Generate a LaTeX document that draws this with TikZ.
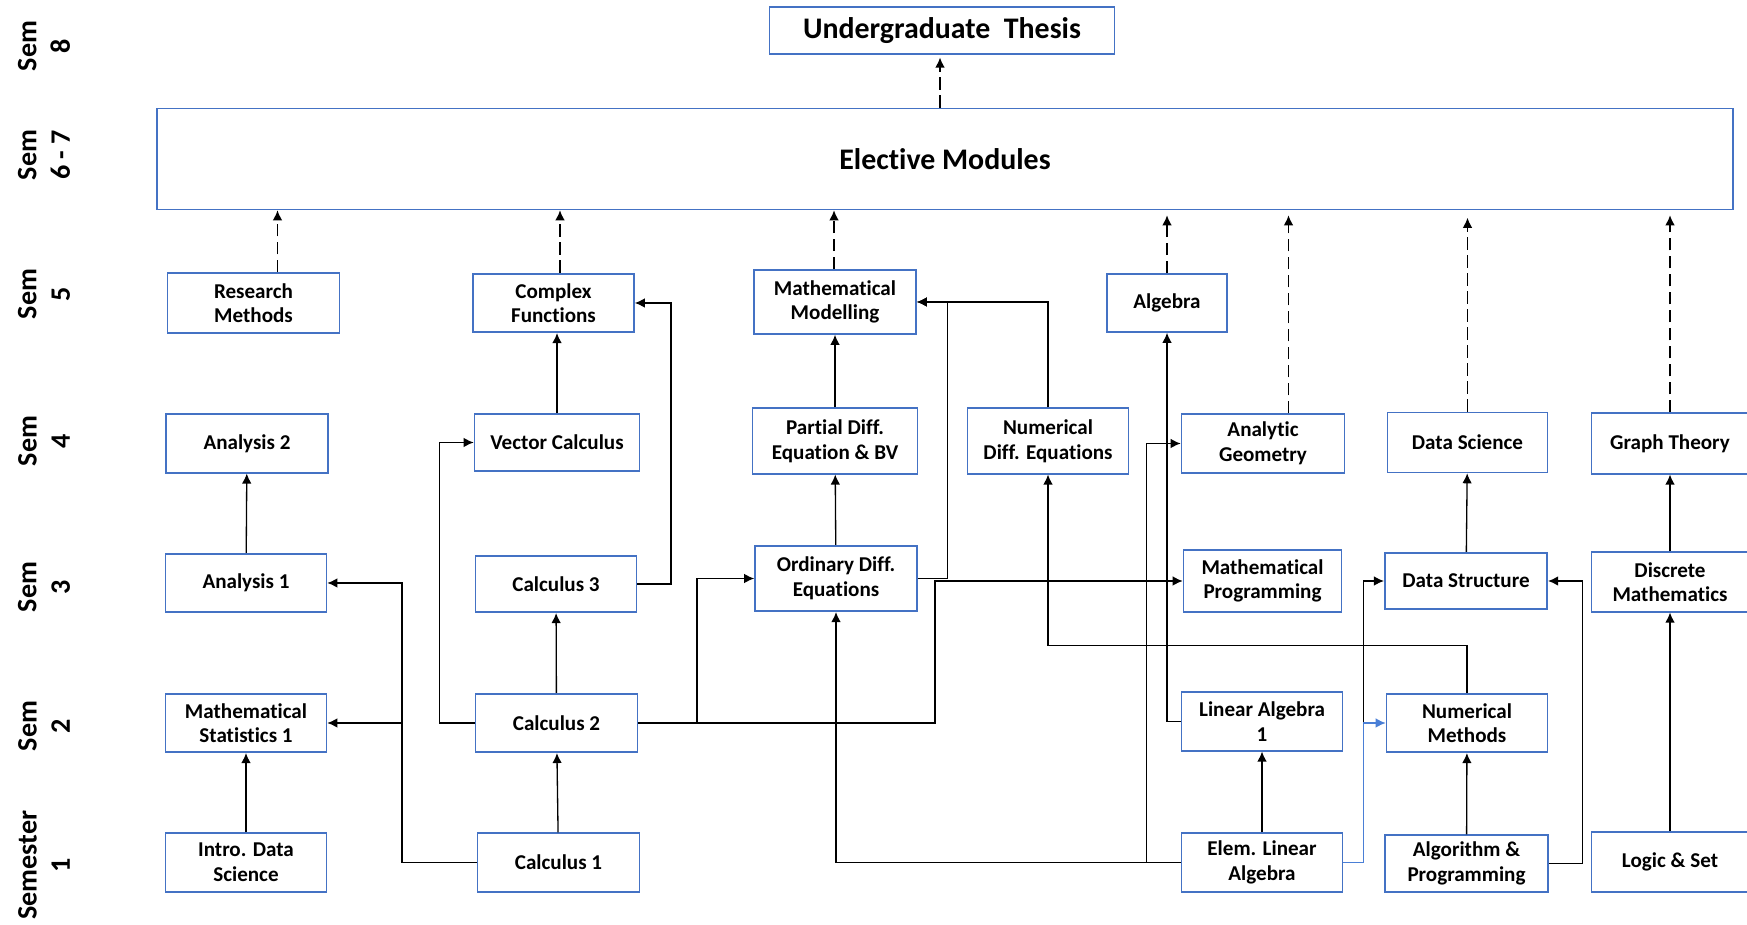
\documentclass[tikz,border=0pt]{standalone}
\usepackage{fontspec}
\setmainfont{Carlito}[Ligatures=NoCommon]
\usepackage{tikz}
\usetikzlibrary{arrows.meta}
\definecolor{boxblue}{HTML}{4472C4}
\definecolor{linkblue}{HTML}{4A7FD6}

\begin{document}
\begin{tikzpicture}[
  course/.style={draw=boxblue, line width=0.9pt, minimum width=3.22cm, minimum height=1.17cm,
    align=center, inner sep=1pt, font=\bfseries\fontsize{12}{14}\selectfont},
  big/.style={course, font=\bfseries\fontsize{17}{20}\selectfont},
  semlabel/.style={rotate=90, align=center, font=\bfseries\fontsize{16}{19}\selectfont},
  arr/.style={-{Latex[length=2mm,width=1.9mm]}, line width=0.75pt},
  dasharr/.style={arr, dash pattern=on 2.5mm off 1.1mm}
]
  \useasboundingbox (0,0) rectangle (34.94,18.48);
  \clip (0,0) rectangle (34.94,18.48);

  % Semester labels
  \node[semlabel] (s8) at (0.88,17.56) {Sem\\8};
  \node[semlabel] (s67) at (0.88,15.38) {Sem\\6 - 7};
  \node[semlabel] (s5) at (0.88,12.60) {Sem\\5};
  \node[semlabel] (s4) at (0.88,9.66) {Sem\\4};
  \node[semlabel] (s3) at (0.88,6.74) {Sem\\3};
  \node[semlabel] (s2) at (0.88,3.96) {Sem\\2};
  \node[semlabel] (s1) at (0.88,1.18) {Semester\\1};

  % Sem 8 and Sem 6-7
  \node[big, minimum width=6.9cm, minimum height=0.95cm] (thesis) at (18.84,17.87) {Undergraduate\ \ Thesis};
  \node[big, minimum width=31.52cm, minimum height=2.02cm] (elective) at (18.90,15.30) {Elective Modules};

  % Sem 5
  \node[course, minimum width=3.44cm, minimum height=1.19cm] (resmeth) at (5.07,12.42) {Research\\Methods};
  \node[course] (complexf) at (11.07,12.42) {Complex\\Functions};
  \node[course, minimum width=3.24cm, minimum height=1.28cm] (modelling) at (16.70,12.44) {Mathematical\\Modelling};
  \node[course, minimum width=2.40cm, minimum height=1.16cm] (algebra) at (23.34,12.42) {Algebra};

  % Sem 4
  \node[course, minimum width=3.24cm] (anatwo) at (4.94,9.61) {Analysis 2};
  \node[course, minimum width=3.30cm, minimum height=1.14cm] (vectorc) at (11.14,9.63) {Vector Calculus};
  \node[course, minimum width=3.30cm, minimum height=1.31cm] (pde) at (16.70,9.66) {Partial Diff.\\Equation \& BV};
  \node[course, minimum height=1.31cm] (nde) at (20.96,9.66) {Numerical\\Diff. Equations};
  \node[course, minimum width=3.26cm] (anageo) at (25.26,9.61) {Analytic\\Geometry};
  \node[course, minimum width=3.20cm, minimum height=1.20cm] (datasci) at (29.35,9.63) {Data Science};
  \node[course, minimum width=3.14cm, minimum height=1.21cm] (graph) at (33.40,9.61) {Graph Theory};

  % Sem 3
  \node[course] (anaone) at (4.92,6.82) {Analysis 1};
  \node[course, minimum height=1.13cm] (calcthree) at (11.12,6.80) {Calculus 3};
  \node[course, minimum width=3.24cm, minimum height=1.31cm] (ode) at (16.72,6.91) {Ordinary Diff.\\Equations};
  \node[course, minimum width=3.16cm, minimum height=1.25cm] (mathprog) at (25.25,6.86) {Mathematical\\Programming};
  \node[course, minimum width=3.25cm, minimum height=1.13cm] (datastruct) at (29.32,6.86) {Data Structure};
  \node[course, minimum width=3.14cm, minimum height=1.19cm] (discrete) at (33.40,6.84) {Discrete\\Mathematics};

  % Sem 2
  \node[course] (statone) at (4.92,4.02) {Mathematical\\Statistics 1};
  \node[course, minimum width=3.24cm] (calctwo) at (11.13,4.02) {Calculus 2};
  \node[course] (linalg) at (25.24,4.05) {Linear Algebra\\1};
  \node[course] (nummeth) at (29.34,4.02) {Numerical\\Methods};

  % Semester 1
  \node[course] (introds) at (4.92,1.23) {Intro. Data\\Science};
  \node[course, minimum width=3.24cm] (calcone) at (11.17,1.23) {Calculus 1};
  \node[course] (elemla) at (25.24,1.23) {Elem. Linear\\Algebra};
  \node[course, minimum width=3.25cm, minimum height=1.13cm] (algoprog) at (29.33,1.21) {Algorithm \&\\Programming};
  \node[course, minimum width=3.14cm, minimum height=1.20cm] (logic) at (33.40,1.24) {Logic \& Set};

  % Into elective modules and thesis
  \draw[dasharr] (resmeth.north -| 5.55,0) -- (elective.south -| 5.55,0);
  \draw[dasharr] (complexf.north -| 11.20,0) -- (elective.south -| 11.20,0);
  \draw[dasharr] (modelling.north -| 16.68,0) -- (elective.south -| 16.68,0);
  \draw[dasharr, shorten >=1mm] (algebra.north) -- (algebra.north |- elective.south);
  \draw[dasharr, shorten >=1mm] (anageo.north -| 25.77,0) -- (elective.south -| 25.77,0);
  \draw[dasharr, shorten >=1.5mm] (datasci.north) -- (datasci.north |- elective.south);
  \draw[dasharr, shorten >=1mm] (graph.north) -- (graph.north |- elective.south);
  \draw[dasharr, shorten >=0.5mm] (elective.north -| 18.80,0) -- (thesis.south -| 18.80,0);

  % Analysis and statistics
  \draw[arr] (introds) -- (statone);
  \draw[arr] (anaone) -- (anatwo);
  \draw[arr] (calcone.west) -| (8.04,6.82) -- (anaone.east);
  \draw[arr] (calcone.west) -| (8.04,4.02) -- (statone.east);

  % Calculus
  \draw[arr] (calcone) -- (calctwo);
  \draw[arr] (calctwo) -- (calcthree);
  \draw[arr] (calctwo.west) -| (8.79,9.63) -- (vectorc.west);
  \draw[arr] (vectorc.north) -- (vectorc.north |- complexf.south);
  \draw[arr] (calcthree.east) -| (13.42,12.42) -- (complexf.east);

  % Differential equations
  \draw[arr] (ode) -- (pde);
  \draw[arr] (pde) -- (modelling);
  \draw[arr] (ode.east) -| (18.95,12.44) -- (modelling.east);
  \draw[arr] (nde.north) |- (modelling.east);
  \draw[arr] (calctwo.east) -| (13.94,6.91) -- (ode.west);
  \draw[arr] (calctwo.east) -| (18.70,6.86) -- (mathprog.west);
  \draw[arr] (elemla.west) -| (ode.south);
  \draw[arr] (nummeth.north) -- ++(0,0.95) -| (nde.south);

  % Algebra
  \draw[arr] (elemla) -- (linalg);
  \draw[arr] (elemla.west) -| (22.93,9.61) -- (anageo.west);
  \draw[arr] (linalg.west) -| (algebra.south);

  % Data and computing
  \draw[arr] (elemla.east) -| (27.27,6.86) -- (datastruct.west);
  \draw[arr, color=linkblue] (elemla.east) -| (27.27,4.02) -- (nummeth.west);
  \draw[arr] (algoprog) -- (nummeth);
  \draw[arr] (algoprog.east) -| (31.65,6.86) -- (datastruct.east);
  \draw[arr] (datastruct) -- (datasci);
  \draw[arr] (logic) -- (discrete);
  \draw[arr] (discrete) -- (graph);
\end{tikzpicture}
\end{document}
